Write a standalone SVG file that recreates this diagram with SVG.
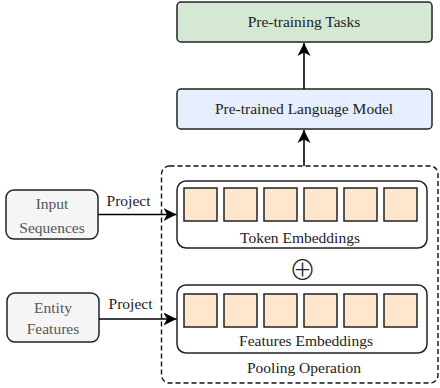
<svg xmlns="http://www.w3.org/2000/svg" width="440" height="388" viewBox="0 0 440 388">
<style>
text{font-family:"Liberation Serif","Times New Roman",serif;font-size:15.5px;fill:#222;text-anchor:middle}
.node{stroke:#222;stroke-width:1.5}
.sq{fill:#ffe6cc;stroke:#222;stroke-width:1.5}
.gray{fill:#f5f5f5}
.gt{fill:#555}
.conn{stroke:#000;stroke-width:1.6;fill:none}
</style>
<defs>
<marker id="ah" markerWidth="14" markerHeight="14" viewBox="0 0 14 14" refX="13" refY="7" orient="auto" markerUnits="userSpaceOnUse">
<path d="M0,0.5 L13,7 L0,13.5 L3.5,7 Z" fill="#000"/>
</marker>
</defs>
<g id="pretraining-tasks">
<rect class="node" x="177" y="2" width="255" height="40" rx="4" fill="#d5e8d4"/>
<text x="304" y="27">Pre-training Tasks</text>
</g>
<g id="plm">
<rect class="node" x="177" y="89" width="255" height="40" rx="4" fill="#e6eeff"/>
<text x="304" y="114">Pre-trained Language Model</text>
</g>
<g id="pooling">
<rect x="161.5" y="166" width="276.5" height="217" rx="8" fill="none" stroke="#111" stroke-width="1.4" stroke-dasharray="5,3"/>
<text x="304" y="373">Pooling Operation</text>
</g>
<g id="token-embeddings">
<rect class="node" x="177" y="181" width="250" height="67" rx="9" fill="#fff"/>
<rect class="sq" x="184" y="188" width="33" height="33"/>
<rect class="sq" x="224" y="188" width="33" height="33"/>
<rect class="sq" x="264" y="188" width="33" height="33"/>
<rect class="sq" x="304" y="188" width="33" height="33"/>
<rect class="sq" x="344" y="188" width="33" height="33"/>
<rect class="sq" x="384" y="188" width="33" height="33"/>
<text x="300" y="243">Token Embeddings</text>
</g>
<g id="plus">
<text x="302.5" y="268" style="font-family:'Noto Sans CJK SC',sans-serif;font-weight:300;font-size:27px" dominant-baseline="central">⊕</text>
</g>
<g id="features-embeddings">
<rect class="node" x="177" y="285" width="250" height="68" rx="9" fill="#fff"/>
<rect class="sq" x="184" y="294" width="33" height="33"/>
<rect class="sq" x="224" y="294" width="33" height="33"/>
<rect class="sq" x="264" y="294" width="33" height="33"/>
<rect class="sq" x="304" y="294" width="33" height="33"/>
<rect class="sq" x="344" y="294" width="33" height="33"/>
<rect class="sq" x="384" y="294" width="33" height="33"/>
<text x="306" y="346">Features Embeddings</text>
</g>
<g id="input-sequences">
<rect class="node gray" x="6" y="190" width="92" height="49" rx="8"/>
<text class="gt" x="52" y="209">Input</text>
<text class="gt" x="52" y="233">Sequences</text>
</g>
<g id="entity-features">
<rect class="node gray" x="7" y="293" width="92" height="49" rx="8"/>
<text class="gt" x="53" y="313">Entity</text>
<text class="gt" x="53" y="334">Features</text>
</g>
<g id="connectors">
<line class="conn" x1="304" y1="89" x2="304" y2="43" marker-end="url(#ah)"/>
<line class="conn" x1="304" y1="166" x2="304" y2="130" marker-end="url(#ah)"/>
<line class="conn" x1="98" y1="214.5" x2="176.5" y2="214.5" marker-end="url(#ah)"/>
<line class="conn" x1="99" y1="319" x2="176.5" y2="319" marker-end="url(#ah)"/>
<text x="128.5" y="206">Project</text>
<text x="130.5" y="309">Project</text>
</g>
</svg>
